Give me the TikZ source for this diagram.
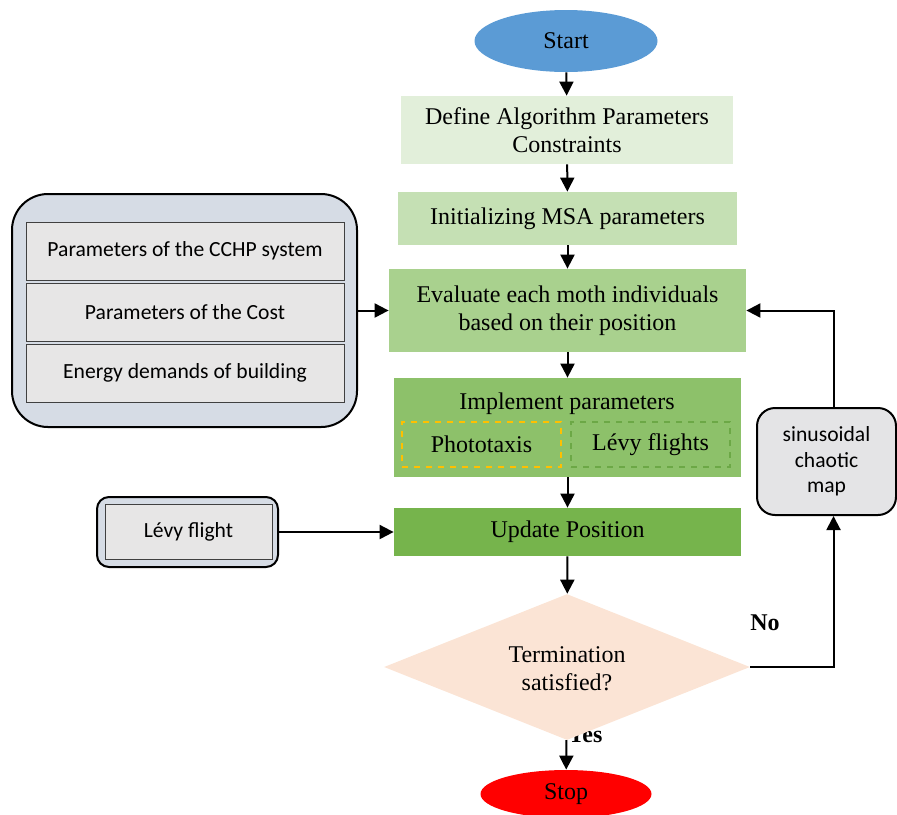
\documentclass[tikz,border=0pt]{standalone}
\usepackage{fontspec}
\setmainfont{Liberation Serif}
\newfontfamily\calfont{Carlito}
\usetikzlibrary{shapes.geometric,arrows.meta}

\definecolor{startblue}{RGB}{91,155,213}
\definecolor{defgreen}{RGB}{226,239,218}
\definecolor{initgreen}{RGB}{197,224,180}
\definecolor{evalgreen}{RGB}{169,209,142}
\definecolor{implgreen}{RGB}{141,193,106}
\definecolor{updgreen}{RGB}{118,180,76}
\definecolor{dashgreen}{RGB}{108,168,70}
\definecolor{phototaxisyellow}{RGB}{255,192,0}
\definecolor{decpeach}{RGB}{251,228,213}
\definecolor{sideblue}{RGB}{214,220,229}
\definecolor{sidegray}{RGB}{231,230,230}

\begin{document}
\begin{tikzpicture}[x=0.5pt,y=-0.5pt,
    font=\fontsize{12}{14}\selectfont,
    arr/.style={line width=1pt,-{Triangle[length=7pt,width=7pt]}},
    stepbox/.style={rectangle,inner sep=0pt,align=center},
    sidebox/.style={rectangle,draw=black!75,fill=sidegray,inner sep=0pt,
        font=\calfont\fontsize{10.8}{12.8}\selectfont},
    roundbox/.style={rectangle,draw,line width=1pt,fill=sideblue,inner sep=0pt}]

    \useasboundingbox (0,0) rectangle (897,814);

    % main column
    \node[ellipse,fill=startblue,minimum width=91.5pt,minimum height=31pt,inner sep=0pt] (start) at (566,41) {Start};
    \node[stepbox,fill=defgreen,minimum width=166pt,minimum height=34pt] (define) at (567,130) {Define Algorithm Parameters\\Constraints};
    \node[stepbox,fill=initgreen,minimum width=169.5pt,minimum height=26.5pt] (init) at (567.5,218.5) {Initializing MSA parameters};
    \node[stepbox,fill=evalgreen,minimum width=178.5pt,minimum height=41.5pt] (eval) at (567.5,310.5) {Evaluate each moth individuals\\based on their position};
    \node[stepbox,fill=implgreen,minimum width=173.5pt,minimum height=49.5pt] (impl) at (567.5,427.5) {};
    \node (impltitle) at (567,404) {Implement parameters};
    \node[stepbox,draw=phototaxisyellow,dashed,line width=1.2pt,minimum width=79.5pt,minimum height=22.5pt] (photo) at (481.5,444.5) {Phototaxis};
    \node[stepbox,draw=dashgreen,dashed,line width=1.2pt,minimum width=79.5pt,minimum height=22.5pt] (levyfl) at (650.5,444.5) {Lévy flights};
    \node[stepbox,fill=updgreen,minimum width=173.5pt,minimum height=24pt] (update) at (567.5,532) {Update Position};

    \node[font=\bfseries\fontsize{12}{14}\selectfont] (yes) at (585,735) {Yes};
    \node[diamond,shape aspect=2.5,fill=decpeach,minimum width=183pt,minimum height=73pt,inner sep=0pt,align=center] (dec) at (567,667) {\\[-4pt]Termination\\satisfied?};
    \node[ellipse,fill=red,minimum width=85.5pt,minimum height=24pt,inner sep=0pt] (stop) at (566,794) {Stop};
    \node[font=\bfseries\fontsize{12}{14}\selectfont] (no) at (765,623) {No};

    % inputs on the left
    \node[roundbox,rounded corners=18pt,minimum width=172.5pt,minimum height=116.5pt] (params) at (184.5,310.5) {};
    \node[sidebox,minimum width=159pt,minimum height=29pt] (cchp) at (185,251) {Parameters of the CCHP system};
    \node[sidebox,minimum width=159pt,minimum height=29pt] (cost) at (185,312) {Parameters of the Cost};
    \node[sidebox,minimum width=159pt,minimum height=29pt] (demand) at (185,373) {Energy demands of building};

    \node[roundbox,rounded corners=6pt,minimum width=90.5pt,minimum height=35pt] (levyout) at (187.5,532) {};
    \node[sidebox,minimum width=83.5pt,minimum height=27.5pt] (levyin) at (188.5,532) {Lévy flight};

    % chaotic map on the right
    \node[roundbox,fill=sidegray!80!sideblue,rounded corners=9pt,minimum width=69.5pt,minimum height=53.5pt,align=center,
        font=\calfont\fontsize{10.8}{12.8}\selectfont] (chaos) at (826.5,461.5) {sinusoidal\\chaotic\\map};

    \draw[arr] (start) -- (define);
    \draw[arr] (define) -- (init);
    \draw[arr] (init) -- (eval);
    \draw[arr] (eval) -- (impl);
    \draw[arr] (impl) -- (update);
    \draw[arr] (update) -- (dec);
    \draw[arr] (dec) -- (stop);
    \draw[arr] (params.east) -- (eval.west);
    \draw[arr] (levyout.east) -- (update.west);
    \draw[arr] (dec.east) -| ([xshift=3.5pt]chaos.south);
    \draw[arr] ([xshift=3.5pt]chaos.north) |- (eval.east);

\end{tikzpicture}
\end{document}
